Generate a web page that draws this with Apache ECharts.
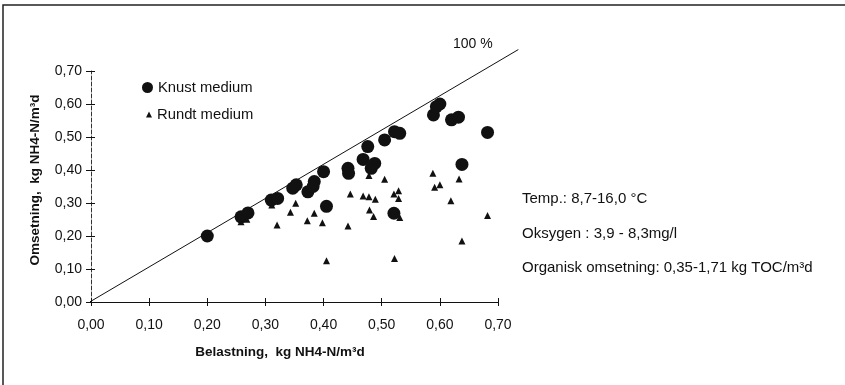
<!DOCTYPE html>
<html>
<head>
<meta charset="utf-8">
<script src="https://cdn.jsdelivr.net/npm/echarts@6/dist/echarts.min.js"></script>
<style>
  html, body { margin: 0; padding: 0; background: #fff; }
  #chart { width: 845px; height: 385px; }
</style>
</head>
<body>
<div id="chart"></div>
<script>
// Knust medium (circles): [belastning, omsetning]
const knustMedium = [
  [0.200, 0.200], [0.258, 0.258], [0.270, 0.270], [0.310, 0.309], [0.321, 0.314],
  [0.347, 0.345], [0.353, 0.355], [0.373, 0.334], [0.384, 0.365], [0.382, 0.350],
  [0.400, 0.395], [0.405, 0.290], [0.442, 0.405], [0.443, 0.390], [0.468, 0.432],
  [0.476, 0.471], [0.488, 0.420], [0.482, 0.405], [0.505, 0.491], [0.522, 0.516],
  [0.531, 0.511], [0.589, 0.567], [0.594, 0.592], [0.600, 0.600], [0.620, 0.552],
  [0.632, 0.560], [0.682, 0.514], [0.638, 0.417], [0.521, 0.269]
];

// Rundt medium (triangles)
const rundtMedium = [
  [0.203, 0.198], [0.258, 0.243], [0.268, 0.251], [0.311, 0.294], [0.320, 0.233],
  [0.343, 0.272], [0.352, 0.299], [0.372, 0.246], [0.384, 0.269], [0.398, 0.240],
  [0.405, 0.125], [0.446, 0.327], [0.468, 0.321], [0.478, 0.319], [0.489, 0.311],
  [0.479, 0.279], [0.486, 0.259], [0.521, 0.327], [0.529, 0.337], [0.529, 0.314],
  [0.531, 0.256], [0.442, 0.230], [0.522, 0.132], [0.588, 0.390], [0.591, 0.348],
  [0.600, 0.355], [0.619, 0.307], [0.682, 0.262], [0.638, 0.185], [0.505, 0.372],
  [0.478, 0.383], [0.633, 0.373]
];

// 100 % line (runs past the axis ends)
const fullLine = [[-0.012, -0.010], [0.735, 0.765]];

const axisMin = 0;
const axisMax = 0.7;
const axisStep = 0.1;
const lineMaxX = 0.735;
const lineMaxY = 0.765;

const notes = [
  'Temp.: 8,7-16,0 °C',
  'Oksygen : 3,9 - 8,3mg/l',
  'Organisk omsetning: 0,35-1,71 kg TOC/m³d'
];

const fmt = v => v.toFixed(2).replace('.', ',');
const font = '"Liberation Sans", Arial, sans-serif';

// main plot box
const gLeft = 91, gRight = 347, gTop = 71, gBottom = 83;
const pxX = (845 - gLeft - gRight) / (axisMax - axisMin);
const pxY = (385 - gTop - gBottom) / (axisMax - axisMin);

const chart = echarts.init(document.getElementById('chart'));

const baseAxis = {
  type: 'value',
  min: axisMin,
  max: axisMax,
  interval: axisStep,
  splitLine: { show: false }
};

const hiddenAxis = {
  type: 'value',
  min: axisMin,
  show: false,
  splitLine: { show: false }
};

chart.setOption({
  backgroundColor: '#fff',
  animation: false,
  grid: [
    { left: gLeft, right: gRight, top: gTop, bottom: gBottom },
    // same scale, wider box so the 100 % line can run past 0,70
    {
      left: gLeft,
      right: 845 - gLeft - lineMaxX * pxX,
      top: 385 - gBottom - lineMaxY * pxY,
      bottom: gBottom
    }
  ],
  legend: [
    {
      data: ['Knust medium'],
      icon: 'circle',
      itemWidth: 11,
      itemHeight: 11,
      left: 137,
      top: 75,
      textStyle: { color: '#111', fontSize: 14.8, fontFamily: font }
    },
    {
      data: ['Rundt medium'],
      icon: 'triangle',
      itemWidth: 6,
      itemHeight: 6,
      left: 141,
      top: 102,
      textStyle: { color: '#111', fontSize: 14.8, fontFamily: font }
    }
  ],
  xAxis: [
    Object.assign({}, baseAxis, {
      gridIndex: 0,
      axisLine: { lineStyle: { color: '#111', width: 1 } },
      axisTick: { length: 4, lineStyle: { color: '#111' } },
      axisLabel: { color: '#111', fontSize: 14, fontFamily: font, margin: 16, formatter: fmt }
    }),
    Object.assign({}, baseAxis, {
      gridIndex: 0,
      position: 'bottom',
      axisLine: { show: false },
      axisTick: { inside: true, length: 4, lineStyle: { color: '#111' } },
      axisLabel: { show: false }
    }),
    Object.assign({}, hiddenAxis, { gridIndex: 1, max: lineMaxX })
  ],
  yAxis: [
    Object.assign({}, baseAxis, {
      gridIndex: 0,
      axisLine: { show: true, lineStyle: { color: '#333', width: 1, type: [4, 2] } },
      axisTick: { show: true, length: 5, lineStyle: { color: '#111' } },
      axisLabel: { color: '#111', fontSize: 14, fontFamily: font, margin: 9, formatter: fmt }
    }),
    Object.assign({}, baseAxis, {
      gridIndex: 0,
      position: 'left',
      axisLine: { show: false },
      axisTick: { show: true, inside: true, length: 4, lineStyle: { color: '#111' } },
      axisLabel: { show: false }
    }),
    Object.assign({}, hiddenAxis, { gridIndex: 1, max: lineMaxY })
  ],
  series: [
    {
      name: '100 %',
      type: 'line',
      xAxisIndex: 2,
      yAxisIndex: 2,
      data: fullLine,
      showSymbol: false,
      symbol: 'none',
      clip: false,
      lineStyle: { color: '#111', width: 1 },
      z: 1
    },
    {
      name: 'Rundt medium',
      type: 'scatter',
      data: rundtMedium,
      symbol: 'triangle',
      symbolSize: 7,
      itemStyle: { color: '#111', opacity: 1 },
      z: 3
    },
    {
      name: 'Knust medium',
      type: 'scatter',
      data: knustMedium,
      symbol: 'circle',
      symbolSize: 13,
      itemStyle: { color: '#111', opacity: 1 },
      z: 2
    }
  ],
  graphic: [
    {
      type: 'rect',
      shape: { x: 3, y: 5, width: 900, height: 500 },
      style: { fill: 'none', stroke: '#222', lineWidth: 1.5 },
      silent: true
    },
    {
      type: 'text',
      left: 453, top: 37,
      style: { text: '100 %', font: '14px ' + font, fill: '#111' }
    },
    {
      type: 'text',
      x: 280, y: 352,
      style: {
        text: 'Belastning,  kg NH4-N/m³d',
        font: 'bold 13.5px ' + font,
        fill: '#111',
        align: 'center',
        verticalAlign: 'middle'
      }
    },
    {
      type: 'text',
      x: 35, y: 180,
      rotation: Math.PI / 2,
      style: {
        text: 'Omsetning,  kg NH4-N/m³d',
        font: 'bold 13.5px ' + font,
        fill: '#111',
        align: 'center',
        verticalAlign: 'middle'
      }
    },
    {
      type: 'text',
      x: 522, y: 199,
      style: { text: notes[0], font: '15px ' + font, fill: '#111', verticalAlign: 'middle' }
    },
    {
      type: 'text',
      x: 522, y: 234,
      style: { text: notes[1], font: '15px ' + font, fill: '#111', verticalAlign: 'middle' }
    },
    {
      type: 'text',
      x: 522, y: 268,
      style: { text: notes[2], font: '15px ' + font, fill: '#111', verticalAlign: 'middle' }
    }
  ]
});
</script>
</body>
</html>
